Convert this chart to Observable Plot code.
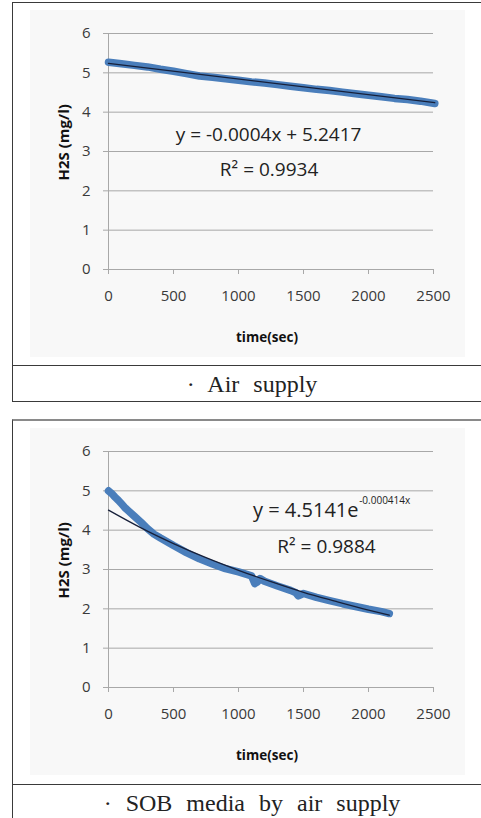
<!DOCTYPE html>
<html>
<head>
<meta charset="utf-8">
<script src="https://cdn.jsdelivr.net/npm/d3@7"></script>
<script src="https://cdn.jsdelivr.net/npm/@observablehq/plot@0.6"></script>
<style>
  html, body { margin: 0; padding: 0; background: #fff; }
  body { width: 481px; height: 818px; position: relative; overflow: hidden; }
  .box { position: absolute; box-sizing: border-box; border: 1px solid #3a3a3a; border-right: none; }
  .sep { position: absolute; height: 1px; background: #3a3a3a; }
  .cap { position: absolute; text-align: center; font-family: "Liberation Serif", "DejaVu Serif", serif; font-size: 24px; color: #222; word-spacing: 8px; white-space: pre; }
  .chart { position: absolute; }
</style>
</head>
<body>
<div class="box" style="left:12px; top:2px; width:480px; height:400px;"></div>
<div class="sep" style="left:12px; top:365px; width:470px;"></div>
<div class="cap" id="cap1" style="left:12px; width:480px; top:368px; line-height:32px;"></div>

<div class="box" style="left:12px; top:419px; width:480px; height:410px; border-top:2px solid #8a8a8a;"></div>
<div class="sep" style="left:12px; top:784px; width:470px;"></div>
<div class="cap" id="cap2" style="left:12px; width:480px; top:787px; line-height:32px;"></div>

<div class="chart" id="c1" style="left:30px; top:10px;"></div>
<div class="chart" id="c2" style="left:30px; top:428px;"></div>

<script>
// ---------- data ----------
const xTicks = [0, 500, 1000, 1500, 2000, 2500];
const yTicks = [0, 1, 2, 3, 4, 5, 6];

// Panel 1: Air supply
const time1 = [0, 100, 200, 300, 400, 500, 600, 700, 800, 900, 1000, 1100, 1200, 1300, 1400, 1500, 1600, 1700, 1800, 1900, 2000, 2100, 2200, 2300, 2400, 2510];
const h2s1  = [5.27, 5.23, 5.19, 5.15, 5.09, 5.04, 4.98, 4.92, 4.89, 4.85, 4.81, 4.77, 4.74, 4.70, 4.66, 4.62, 4.58, 4.55, 4.51, 4.47, 4.43, 4.39, 4.35, 4.32, 4.28, 4.22];
const trendTime1 = [0, 2510];
const trendH2s1  = [5.24, 4.24];

// Panel 2: SOB media by air supply
const time2 = [0, 25, 50, 75, 100, 130, 150, 200, 250, 300, 350, 400, 500, 600, 700, 800, 900, 1000, 1050, 1100, 1125, 1145, 1165, 1200, 1300, 1400, 1440, 1460, 1500, 1600, 1700, 1800, 1900, 2000, 2100, 2160];
const h2s2  = [5.00, 4.93, 4.84, 4.76, 4.67, 4.56, 4.50, 4.35, 4.20, 4.04, 3.90, 3.80, 3.61, 3.43, 3.27, 3.14, 3.02, 2.94, 2.89, 2.84, 2.64, 2.68, 2.77, 2.70, 2.58, 2.47, 2.41, 2.33, 2.39, 2.29, 2.21, 2.13, 2.06, 1.99, 1.93, 1.88];
const trendTime2 = [0, 250, 500, 750, 1000, 1250, 1500, 1750, 2000, 2160];
const trendH2s2  = [4.51, 4.06, 3.66, 3.30, 2.98, 2.69, 2.42, 2.19, 1.97, 1.84];

const captions = ["· Air supply", "· SOB media by air supply"];
const xLabel = "time(sec)";
const yLabel = "H2S (mg/l)";

// ---------- drawing ----------
const toRows = (xs, ys) => xs.map((x, i) => ({x, y: ys[i]}));
const FONT = "'Open Sans', 'Noto Sans', sans-serif";

function panel(data, trend, annotations) {
  return Plot.plot({
    width: 435,
    height: 347,
    marginLeft: 78,
    marginRight: 32,
    marginTop: 23,
    marginBottom: 88,
    style: {background: "#f8f8f8", fontFamily: FONT, fontSize: "15px", color: "#3a3a3a", overflow: "visible"},
    x: {domain: [0, 2500], ticks: xTicks},
    y: {domain: [0, 6], ticks: yTicks},
    marks: [
      Plot.gridY(yTicks.filter(d => d > 0), {stroke: "#a8a8a8", strokeOpacity: 1, strokeWidth: 1}),
      Plot.ruleX([0], {y1: 0, y2: 6, stroke: "#a8a8a8", strokeWidth: 1}),
      Plot.ruleY([0], {stroke: "#a8a8a8", strokeWidth: 1}),
      Plot.axisY({ticks: yTicks, tickSize: 5, tickPadding: 13, stroke: "#a8a8a8", fill: "#3a3a3a", label: null, tickFormat: d3.format("d"), fontSize: 15}),
      Plot.axisX({ticks: xTicks, tickSize: 5, tickPadding: 16, stroke: "#a8a8a8", fill: "#3a3a3a", label: null, tickFormat: d3.format("d"), fontSize: 15}),
      Plot.line(data, {x: "x", y: "y", stroke: "#4a7ebb", strokeWidth: 7.5, strokeLinecap: "round", strokeLinejoin: "round"}),
      Plot.line(trend, {x: "x", y: "y", stroke: "#17203a", strokeWidth: 1.3, curve: "monotone-x"}),
      Plot.text([xLabel], {frameAnchor: "bottom", dy: 72, dx: -4, fontWeight: "bold", fontSize: 13.5, fill: "#111"}),
      Plot.text([yLabel], {frameAnchor: "left", rotate: -90, dx: -44, dy: 29, fontWeight: "bold", fontSize: 15, fill: "#111"}),
      ...annotations
    ]
  });
}

const c1 = panel(toRows(time1, h2s1), toRows(trendTime1, trendH2s1), [
  Plot.text(["y = -0.0004x + 5.2417"], {x: 1231, y: 3.41, fontSize: 19, fill: "#222"}),
  Plot.text(["R² = 0.9934"], {x: 1235, y: 2.54, fontSize: 19, fill: "#222"})
]);
document.getElementById("c1").appendChild(c1);

const c2 = panel(toRows(time2, h2s2), toRows(trendTime2, trendH2s2), [
  Plot.text(["y = 4.5141e"], {x: 1923, y: 4.51, fontSize: 20, textAnchor: "end", fill: "#222"}),
  Plot.text(["-0.000414x"], {x: 1928, y: 4.74, fontSize: 10, textAnchor: "start", fill: "#222"}),
  Plot.text(["R² = 0.9884"], {x: 1677, y: 3.57, fontSize: 19, fill: "#222"})
]);
document.getElementById("c2").appendChild(c2);

document.getElementById("cap1").textContent = captions[0];
document.getElementById("cap2").textContent = captions[1];
</script>
</body>
</html>
